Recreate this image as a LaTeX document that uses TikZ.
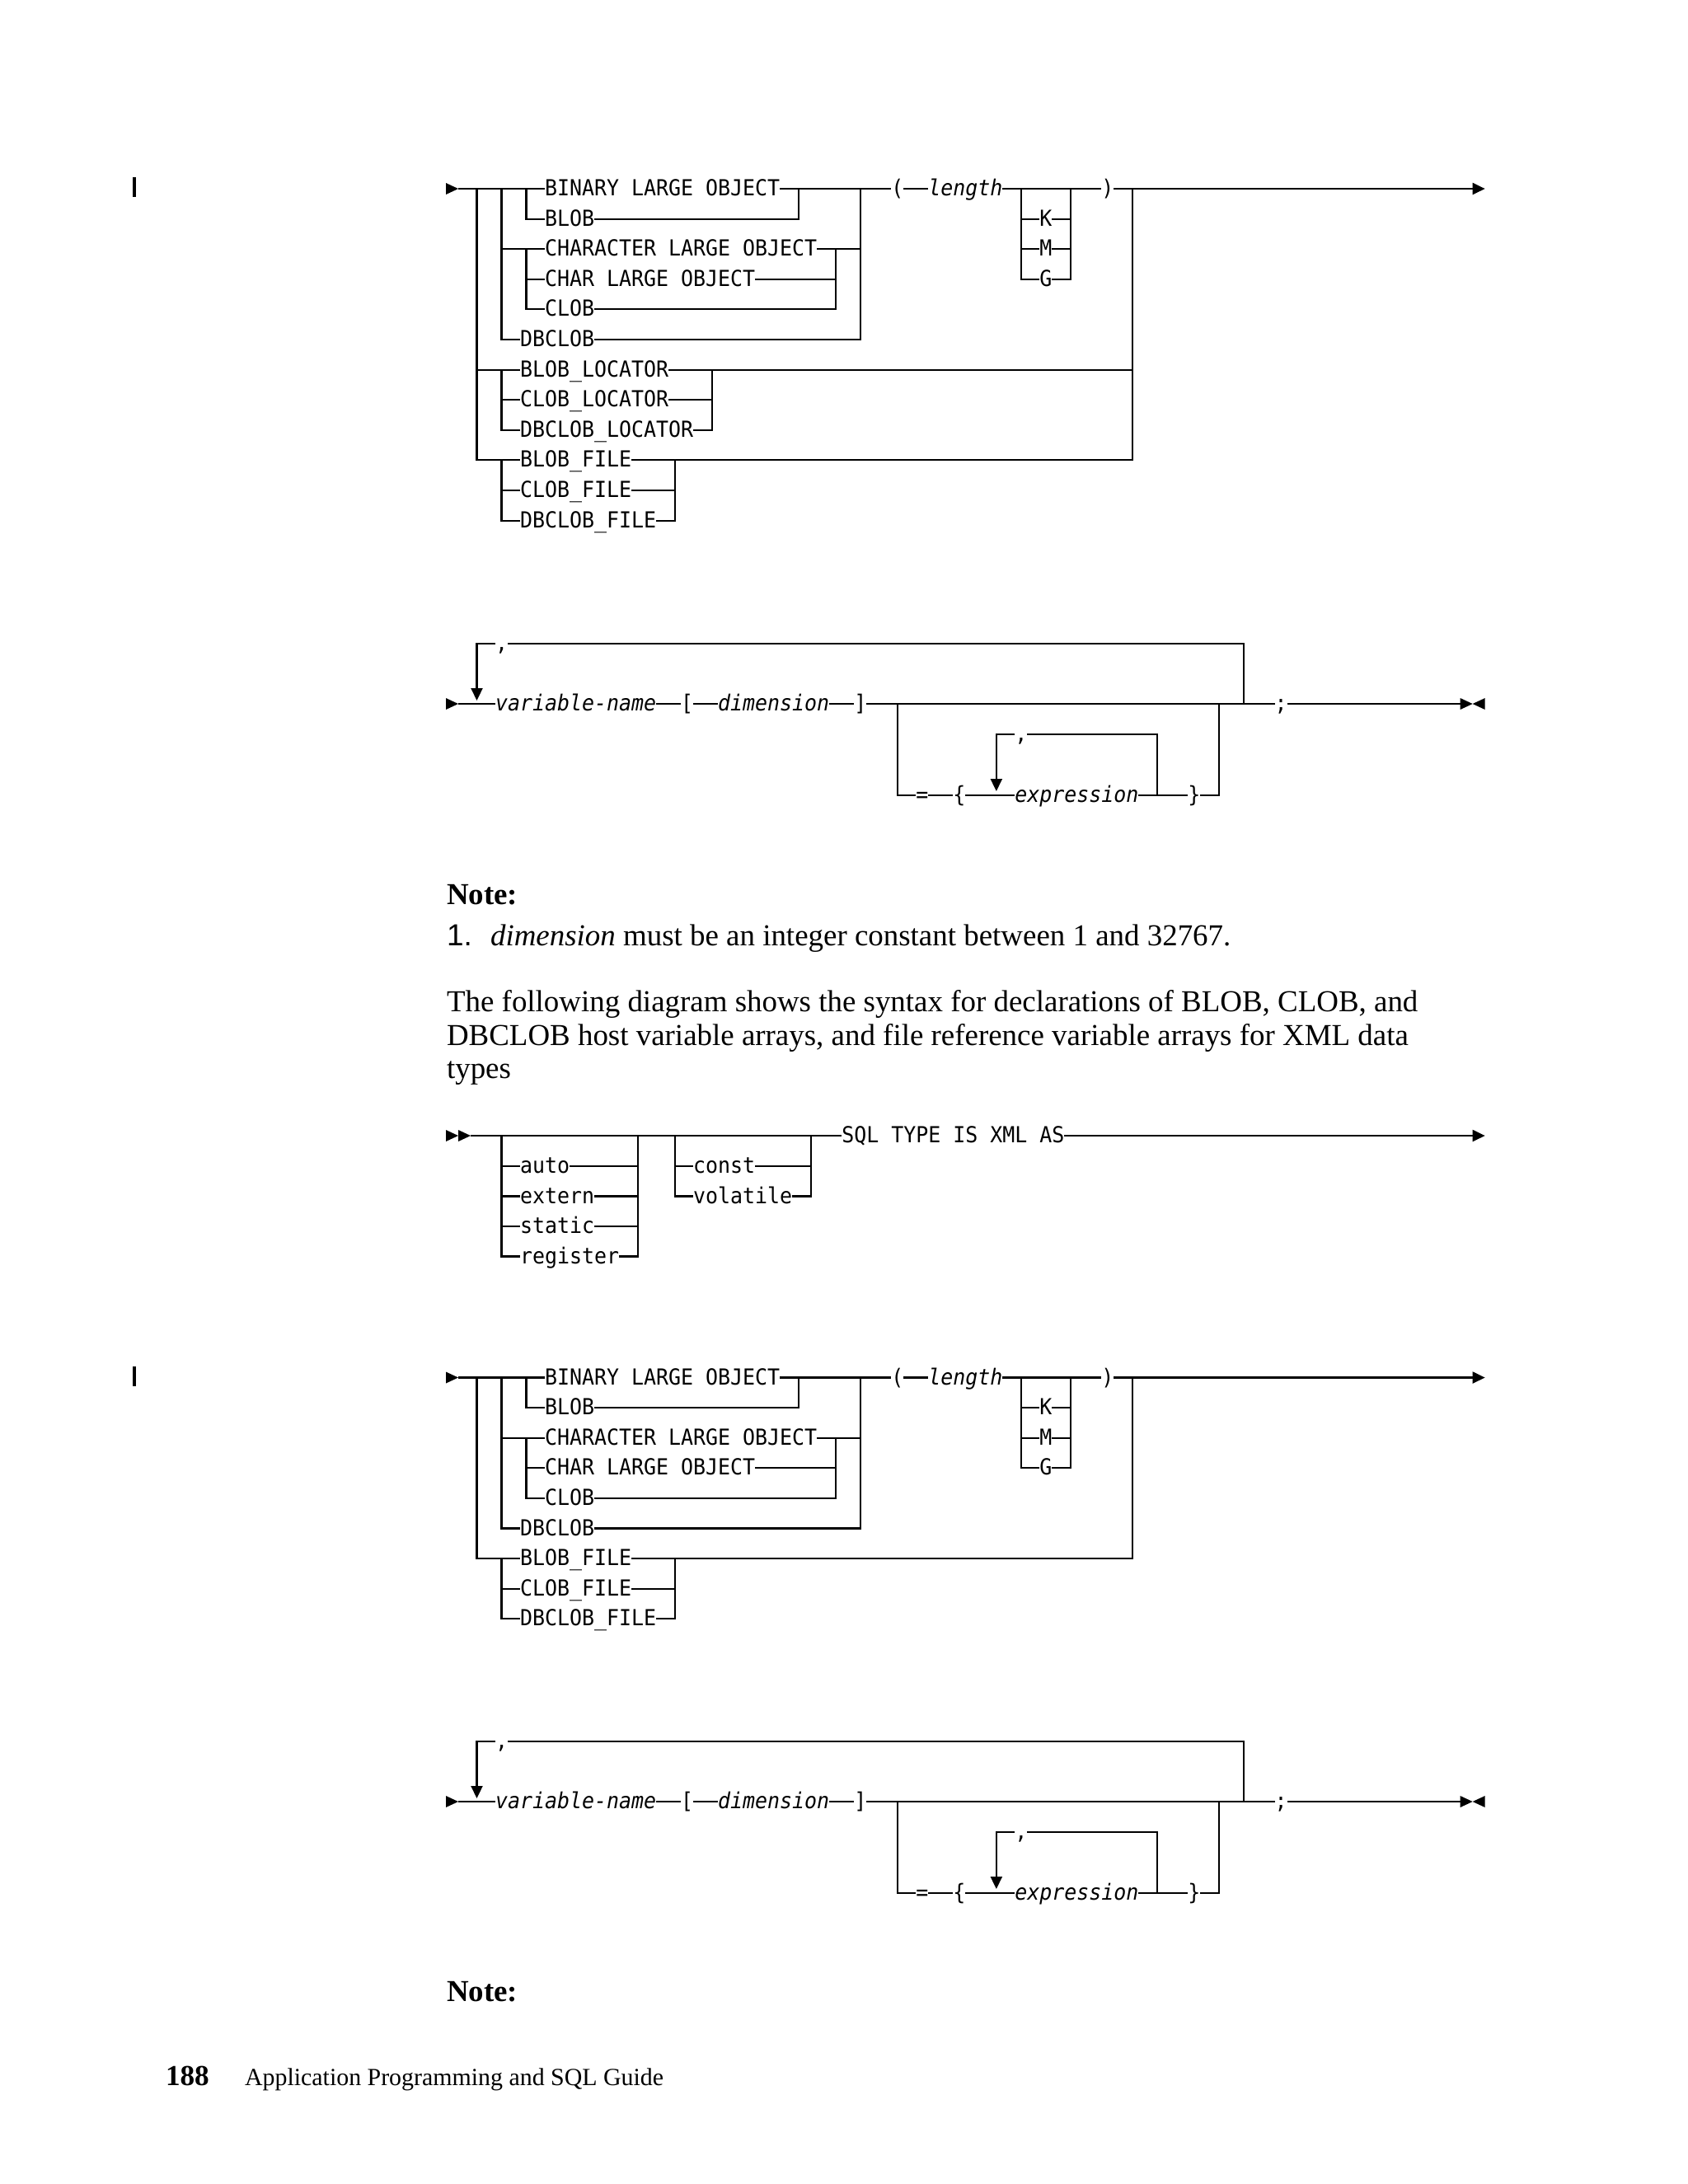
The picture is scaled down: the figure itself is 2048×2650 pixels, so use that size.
\documentclass[tikz,border=0pt]{standalone}
\usepackage{fontspec}
\setmainfont{Liberation Serif}
\setsansfont{Liberation Sans}
\newfontfamily\railfont{DejaVu Sans Mono}[ItalicFont={DejaVu Sans Mono Oblique}, FakeStretch=0.93]
\usetikzlibrary{
    arrows.meta
}
\newcommand{\railsize}{\fontsize{7.62pt}{8.5pt}\selectfont}
\tikzset{
    every picture/.style = {
        line width = 0.6pt
    },
    kw/.style = {
        font = \railfont\railsize,
        inner sep = 0pt,
        outer sep = 0pt,
        text height = 1.7mm,
        text depth = 0pt,
        anchor = west
    },
    var/.style = {
        kw,
        font = \railfont\railsize\itshape
    },
    tip/.style = {-{Triangle[length = 1.5mm, width = 1.4mm]}},
    body/.style = {
        font = \fontsize{10.5pt}{12pt}\selectfont,
        inner sep = 0pt,
        anchor = base west
    },
    notehead/.style = {
        body,
        font = \fontsize{10.5pt}{12pt}\selectfont\bfseries
    },
    rstart/.pic = {\fill (-0.5,-7) -- (-0.5,7) -- (0.5,0) -- cycle;},
    rdouble/.pic = {\fill (-0.5,-7) -- (-0.5,7) -- (0.5,0) -- cycle;
                    \fill (0.5,-7) -- (0.5,7) -- (1.5,0) -- cycle;},
    rend/.pic = {\fill (-1,-7) -- (-1,7) -- (0,0) -- cycle;
                 \fill (1,-7) -- (1,7) -- (0,0) -- cycle;}
}

\begin{document}
\begin{tikzpicture}[x = 0.01cm, y = -0.01cm]
    \useasboundingbox (0,0) rectangle (2048,2650);

    % change bars
    \draw[line width = 0.9pt] (163,215) -- (163,239);
    \draw[line width = 0.9pt] (163,1658) -- (163,1682);

    % page text
    \node[notehead] (note1) at (541,1097) {Note:};
    \node[body] (num1) at (541,1147) {\sffamily 1.};
    \node[body] (item1) at (594,1147) {\textit{dimension} must be an integer constant between 1 and 32767.};
    \node[body] (par1) at (541,1227) {The following diagram shows the syntax for declarations of BLOB, CLOB, and};
    \node[body] (par2) at (541,1268) {DBCLOB host variable arrays, and file reference variable arrays for XML data};
    \node[body] (par3) at (541,1308) {types};
    \node[notehead] (note2) at (541,2428) {Note:};
    \node[body, font = \fontsize{10pt}{12pt}\selectfont\bfseries] (page) at (200,2530) {188};
    \node[body, font = \fontsize{8.5pt}{10pt}\selectfont] (guide) at (296,2530) {Application Programming and SQL Guide};

    \begin{scope}[shift = {(548.5,0)}, x = 0.15cm]
        % LOB host variable
        \pic at (0,229) {rstart};
        \node[kw] (bin)  at (7.5,229)   {BINARY LARGE OBJECT};
        \node[kw] (blob) at (7.5,265.6) {BLOB};
        \node[kw] (chr)  at (7.5,302.2) {CHARACTER LARGE OBJECT};
        \node[kw] (chlo) at (7.5,338.8) {CHAR LARGE OBJECT};
        \node[kw] (clob) at (7.5,375.4) {CLOB};
        \node[kw] (dbc)  at (5.5,412)   {DBCLOB};
        \node[kw] (bloc) at (5.5,448.6) {BLOB\_LOCATOR};
        \node[kw] (cloc) at (5.5,485.2) {CLOB\_LOCATOR};
        \node[kw] (dloc) at (5.5,521.8) {DBCLOB\_LOCATOR};
        \node[kw] (bfil) at (5.5,558.4) {BLOB\_FILE};
        \node[kw] (cfil) at (5.5,595)   {CLOB\_FILE};
        \node[kw] (dfil) at (5.5,631.6) {DBCLOB\_FILE};
        \node[kw] (lp)   at (35.5,229)  {(};
        \node[var] (len) at (38.5,229)  {length};
        \node[kw] (k)    at (47.5,265.6) {K};
        \node[kw] (m)    at (47.5,302.2) {M};
        \node[kw] (g)    at (47.5,338.8) {G};
        \node[kw] (rp)   at (52.5,229)  {)};

        \draw (0.5,229) -- (bin.west);
        \draw (2,229) |- (bloc.west);
        \draw (2,448.6) |- (bfil.west);
        \draw (4,229) |- (dbc.west);
        \draw (4,302.2) -- (chr.west);
        \draw (6,229) |- (blob.west);
        \draw (6,302.2) |- (clob.west);
        \draw (6,338.8) -- (chlo.west);
        \draw (4,448.6) |- (dloc.west);
        \draw (4,485.2) -- (cloc.west);
        \draw (4,558.4) |- (dfil.west);
        \draw (4,595) -- (cfil.west);

        \draw (bin.east) -- (lp.west);
        \draw (blob.east) -| (28,229);
        \draw (clob.east) -| (31,302.2);
        \draw (chlo.east) -- (31,338.8);
        \draw (chr.east) -- (33,302.2);
        \draw (dbc.east) -| (33,229);
        \draw (dloc.east) -| (21,448.6);
        \draw (cloc.east) -- (21,485.2);
        \draw (bloc.east) -- (55,448.6);
        \draw (dfil.east) -| (18,558.4);
        \draw (cfil.east) -- (18,595);
        \draw (bfil.east) -| (55,229);

        \draw (lp.east) -- (len.west);
        \draw (len.east) -- (rp.west);
        \draw (46,229) |- (g.west);
        \draw (46,265.6) -- (k.west);
        \draw (46,302.2) -- (m.west);
        \draw (g.east) -| (50,229);
        \draw (k.east) -- (50,265.6);
        \draw (m.east) -- (50,302.2);
        \draw[tip] (rp.east) -- (83.5,229);

        % array declarator (drawn twice)
        \foreach \dy/\pf in {0/a, 1332/b} {
            \begin{scope}[shift = {(0,\dy)}, name prefix = \pf-]
                \pic at (0,854) {rstart};
                \node[kw] (cm)    at (3.5,781)  {,};
                \node[var] (vn)   at (3.5,854)  {variable-name};
                \node[kw] (lb)    at (18.5,854) {[};
                \node[var] (dim)  at (21.5,854) {dimension};
                \node[kw] (rb)    at (32.5,854) {]};
                \node[kw] (semi)  at (66.5,854) {;};
                \node[kw] (eq)    at (37.5,965) {=};
                \node[kw] (lc)    at (40.5,965) {\{};
                \node[kw] (icm)   at (45.5,891) {,};
                \node[var] (expr) at (45.5,965) {expression};
                \node[kw] (rc)    at (59.5,965) {\}};

                \draw (0.5,854) -- (vn.west);
                \draw[tip] (cm.west) -| (2,850);
                \draw (cm.east) -| (64,854);
                \draw (vn.east) -- (lb.west);
                \draw (lb.east) -- (dim.west);
                \draw (dim.east) -- (rb.west);
                \draw (rb.east) -- (semi.west);
                \draw (semi.east) -- (81.5,854);
                \pic at (82.5,854) {rend};

                \draw (36,854) |- (eq.west);
                \draw (eq.east) -- (lc.west);
                \draw (lc.east) -- (expr.west);
                \draw (expr.east) -- (rc.west);
                \draw (rc.east) -| (62,854);
                \draw (57,965) |- (icm.east);
                \draw[tip] (icm.west) -| (44,960);
            \end{scope}
        }

        % XML type
        \pic at (0,1378) {rdouble};
        \node[kw] (auto) at (5.5,1415)   {auto};
        \node[kw] (extn) at (5.5,1451.5) {extern};
        \node[kw] (stat) at (5.5,1488)   {static};
        \node[kw] (regi) at (5.5,1524.5) {register};
        \node[kw] (cnst) at (19.5,1415)   {const};
        \node[kw] (vola) at (19.5,1451.5) {volatile};
        \node[kw] (sql)  at (31.5,1378)  {SQL TYPE IS XML AS};

        \draw (1.5,1378) -- (sql.west);
        \draw[tip] (sql.east) -- (83.5,1378);
        \draw (4,1378) |- (regi.west);
        \draw (4,1415) -- (auto.west);
        \draw (4,1451.5) -- (extn.west);
        \draw (4,1488) -- (stat.west);
        \draw (regi.east) -| (15,1378);
        \draw (auto.east) -- (15,1415);
        \draw (extn.east) -- (15,1451.5);
        \draw (stat.east) -- (15,1488);
        \draw (18,1378) |- (vola.west);
        \draw (18,1415) -- (cnst.west);
        \draw (vola.east) -| (29,1378);
        \draw (cnst.east) -- (29,1415);

        % XML host variable
        \pic at (0,1671.5) {rstart};
        \node[kw] (xbin)  at (7.5,1671.5) {BINARY LARGE OBJECT};
        \node[kw] (xblob) at (7.5,1708.1) {BLOB};
        \node[kw] (xchr)  at (7.5,1744.7) {CHARACTER LARGE OBJECT};
        \node[kw] (xchlo) at (7.5,1781.3) {CHAR LARGE OBJECT};
        \node[kw] (xclob) at (7.5,1817.9) {CLOB};
        \node[kw] (xdbc)  at (5.5,1854.5) {DBCLOB};
        \node[kw] (xbfil) at (5.5,1891.1) {BLOB\_FILE};
        \node[kw] (xcfil) at (5.5,1927.7) {CLOB\_FILE};
        \node[kw] (xdfil) at (5.5,1964.3) {DBCLOB\_FILE};
        \node[kw] (xlp)   at (35.5,1671.5) {(};
        \node[var] (xlen) at (38.5,1671.5) {length};
        \node[kw] (xk)    at (47.5,1708.1) {K};
        \node[kw] (xm)    at (47.5,1744.7) {M};
        \node[kw] (xg)    at (47.5,1781.3) {G};
        \node[kw] (xrp)   at (52.5,1671.5) {)};

        \draw (0.5,1671.5) -- (xbin.west);
        \draw (2,1671.5) |- (xbfil.west);
        \draw (4,1671.5) |- (xdbc.west);
        \draw (4,1744.7) -- (xchr.west);
        \draw (6,1671.5) |- (xblob.west);
        \draw (6,1744.7) |- (xclob.west);
        \draw (6,1781.3) -- (xchlo.west);
        \draw (4,1891.1) |- (xdfil.west);
        \draw (4,1927.7) -- (xcfil.west);

        \draw (xbin.east) -- (xlp.west);
        \draw (xblob.east) -| (28,1671.5);
        \draw (xclob.east) -| (31,1744.7);
        \draw (xchlo.east) -- (31,1781.3);
        \draw (xchr.east) -- (33,1744.7);
        \draw (xdbc.east) -| (33,1671.5);
        \draw (xdfil.east) -| (18,1891.1);
        \draw (xcfil.east) -- (18,1927.7);
        \draw (xbfil.east) -| (55,1671.5);

        \draw (xlp.east) -- (xlen.west);
        \draw (xlen.east) -- (xrp.west);
        \draw (46,1671.5) |- (xg.west);
        \draw (46,1708.1) -- (xk.west);
        \draw (46,1744.7) -- (xm.west);
        \draw (xg.east) -| (50,1671.5);
        \draw (xk.east) -- (50,1708.1);
        \draw (xm.east) -- (50,1744.7);
        \draw[tip] (xrp.east) -- (83.5,1671.5);
    \end{scope}
\end{tikzpicture}
\end{document}
